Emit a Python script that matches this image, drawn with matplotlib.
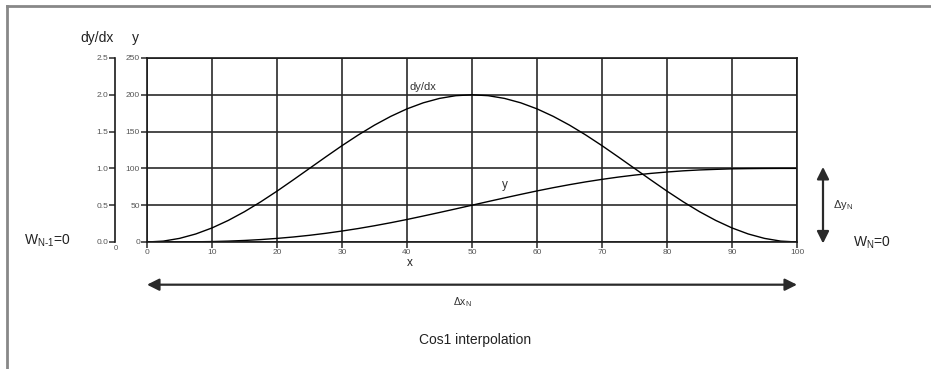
import matplotlib
matplotlib.use("Agg")
import matplotlib.pyplot as plt
from matplotlib.lines import Line2D

plt.rcParams['font.family'] = ['Liberation Sans', 'DejaVu Sans']
plt.rcParams['mathtext.fontset'] = 'custom'
plt.rcParams['mathtext.rm'] = 'Liberation Sans'
plt.rcParams['mathtext.it'] = 'Liberation Sans'

# values (x step 2.5)
x = [0, 2.5, 5, 7.5, 10, 12.5, 15, 17.5, 20, 22.5, 25, 27.5, 30, 32.5, 35, 37.5, 40,
     42.5, 45, 47.5, 50, 52.5, 55, 57.5, 60, 62.5, 65, 67.5, 70, 72.5, 75, 77.5, 80,
     82.5, 85, 87.5, 90, 92.5, 95, 97.5, 100]
dydx = [0, 1.2, 4.9, 10.9, 19.1, 29.3, 41.2, 54.6, 69.1, 84.4, 100, 115.6, 130.9,
        145.4, 158.8, 170.7, 180.9, 189.1, 195.1, 198.8, 200, 198.8, 195.1, 189.1,
        180.9, 170.7, 158.8, 145.4, 130.9, 115.6, 100, 84.4, 69.1, 54.6, 41.2, 29.3,
        19.1, 10.9, 4.9, 1.2, 0]
y = [0, 0.0, 0.1, 0.3, 0.6, 1.2, 2.1, 3.3, 4.9, 6.8, 9.1, 11.8, 14.9, 18.3, 22.1,
     26.2, 30.6, 35.3, 40.1, 45.0, 50, 55.0, 59.9, 64.7, 69.4, 73.8, 77.9, 81.7, 85.1,
     88.2, 90.9, 93.2, 95.1, 96.7, 97.9, 98.7, 99.4, 99.7, 99.9, 100.0, 100]
x_ticks = [0, 10, 20, 30, 40, 50, 60, 70, 80, 90, 100]
y_ticks = [0, 50, 100, 150, 200, 250]
d_ticks = [0.0, 0.5, 1.0, 1.5, 2.0, 2.5]

W, H = 931, 369
fig = plt.figure(figsize=(W / 100, H / 100), dpi=100)

def fx(px):
    return px / W

def fy(py):
    return 1 - py / H

left, right, top, bot = 147, 797, 58, 242
ax = fig.add_axes([fx(left), fy(bot), (right - left) / W, (bot - top) / H])
ax.set_xlim(0, 100)
ax.set_ylim(0, 250)
ax.set_xticks(x_ticks)
ax.set_yticks(y_ticks)
ax.grid(True, color='#2a2a2a', lw=1.2)
ax.tick_params(length=4, width=1.1, colors='#2a2a2a', labelsize=6, labelcolor='#555555', pad=1)
for s in ax.spines.values():
    s.set_color('#1a1a1a')
    s.set_linewidth(1.2)

ax.plot(x, dydx, color='black', lw=1)
ax.plot(x, y, color='black', lw=1)
ax.text(42.5, 210, 'dy/dx', fontsize=8, color='#333333', ha='center', va='center')
ax.text(55, 77, 'y', fontsize=8.5, color='#333333', ha='center', va='center')
ax.text(40.5, -29, 'x', fontsize=8.5, color='#222222', ha='center', va='center')

# dy/dx scale on the left
ax2 = fig.add_axes([fx(115), fy(bot), 0.0001, (bot - top) / H])
ax2.set_ylim(0, 2.5)
ax2.set_yticks(d_ticks)
ax2.set_yticklabels(['%.1f' % v for v in d_ticks])
ax2.set_xticks([])
for k in ['top', 'right', 'bottom']:
    ax2.spines[k].set_visible(False)
ax2.spines['left'].set_color('#1a1a1a')
ax2.spines['left'].set_linewidth(1.2)
ax2.tick_params(length=4, width=1.1, colors='#2a2a2a', labelsize=6, labelcolor='#555555', pad=1)
fig.text(fx(116), fy(249), '0', fontsize=5.5, color='#555555', ha='center', va='center')

fig.text(fx(97), fy(38), 'dy/dx', fontsize=10, color='#222222', ha='center', va='center')
fig.text(fx(135), fy(38), 'y', fontsize=10, color='#222222', ha='center', va='center')

# arrows
ax.annotate('', xy=(0, -58), xytext=(100, -58), annotation_clip=False,
            arrowprops=dict(arrowstyle='<|-|>', color='#2a2a2a', lw=1.6,
                            mutation_scale=18, shrinkA=0, shrinkB=0))
ax.text(48.5, -82, r'$\Delta$x$_{\mathrm{N}}$', fontsize=7.5, color='#333333', ha='center', va='center')
ax.annotate('', xy=(104, 102), xytext=(104, -2), annotation_clip=False,
            arrowprops=dict(arrowstyle='<|-|>', color='#2a2a2a', lw=1.6,
                            mutation_scale=18, shrinkA=0, shrinkB=0))
ax.text(105.5, 50, r'$\Delta$y$_{\mathrm{N}}$', fontsize=8, color='#333333', ha='left', va='center')

fig.text(fx(24), fy(241), r'W$_{\mathrm{N\text{-}1}}$=0', fontsize=10, color='#222222', ha='left', va='center')
fig.text(fx(853), fy(243), r'W$_{\mathrm{N}}$=0', fontsize=10, color='#222222', ha='left', va='center')
fig.text(fx(475), fy(340), 'Cos1 interpolation', fontsize=10, color='#222222', ha='center', va='center')

# page frame
fig.add_artist(Line2D([fx(7), fx(7)], [0, fy(6)], color='#888888', lw=2))
fig.add_artist(Line2D([fx(7), 1], [fy(6), fy(6)], color='#888888', lw=2))

fig.savefig('out.png', dpi=100)
